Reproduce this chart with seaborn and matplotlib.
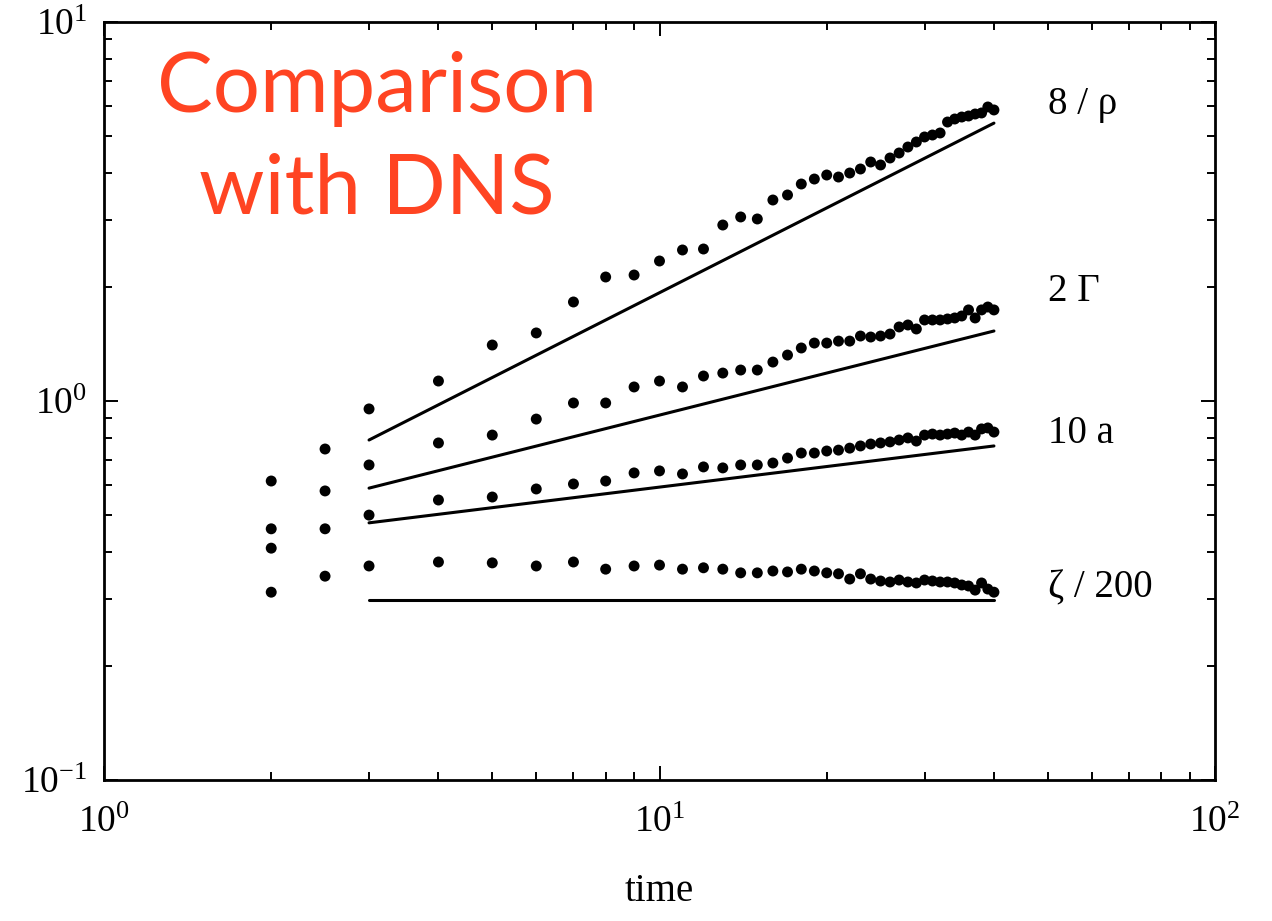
import numpy as np
import pandas as pd
import matplotlib
matplotlib.use("Agg")
import matplotlib.pyplot as plt
import seaborn as sns

# ---------------- data ----------------
time = [2, 2.5] + list(range(3, 41))

rho8 = [0.615, 0.747, 0.953, 1.129, 1.405, 1.512, 1.825, 2.124, 2.150, 2.341,
        2.503, 2.518, 2.913, 3.059, 3.022, 3.391, 3.496, 3.737, 3.852, 3.947,
        3.899, 3.995, 4.094, 4.272, 4.195, 4.377, 4.512, 4.679, 4.824, 4.973,
        5.033, 5.095, 5.446, 5.547, 5.614, 5.649, 5.718, 5.754, 5.967, 5.860]

gamma2 = [0.460, 0.579, 0.678, 0.775, 0.813, 0.896, 0.988, 0.988, 1.089, 1.129,
          1.089, 1.164, 1.185, 1.207, 1.207, 1.267, 1.322, 1.380, 1.422, 1.422,
          1.439, 1.439, 1.484, 1.475, 1.484, 1.502, 1.568, 1.587, 1.549, 1.636,
          1.636, 1.636, 1.646, 1.656, 1.676, 1.739, 1.656, 1.739, 1.770, 1.739]

a10 = [0.409, 0.460, 0.500, 0.548, 0.558, 0.586, 0.604, 0.615, 0.646, 0.654,
       0.642, 0.670, 0.666, 0.678, 0.678, 0.686, 0.707, 0.729, 0.729, 0.738,
       0.742, 0.751, 0.761, 0.770, 0.775, 0.780, 0.789, 0.799, 0.784, 0.813,
       0.818, 0.813, 0.818, 0.823, 0.813, 0.828, 0.813, 0.844, 0.849, 0.828]

zeta200 = [0.313, 0.345, 0.367, 0.376, 0.374, 0.367, 0.376, 0.360, 0.367, 0.369,
           0.360, 0.363, 0.360, 0.352, 0.352, 0.356, 0.354, 0.360, 0.356, 0.352,
           0.350, 0.339, 0.350, 0.339, 0.335, 0.333, 0.337, 0.333, 0.331, 0.337,
           0.335, 0.333, 0.333, 0.331, 0.327, 0.325, 0.317, 0.331, 0.319, 0.313]

# model curves (power laws, straight lines in log-log), endpoints at t=3 and t=40
line_time = [3, 40]
rho8_model = [0.789, 5.41]
gamma2_model = [0.589, 1.530]
a10_model = [0.477, 0.761]
zeta200_model = [0.2985, 0.2985]

series_names = ["8 / \u03c1", "2 \u0393", "10 a", "\u03b6 / 200"]
label_y = [6.04, 1.94, 0.823, 0.321]
label_x = 50
title_lines = ["Comparison", "with DNS"]
xlabel = "time"

# ---------------- tidy frames ----------------
dots = pd.concat([
    pd.DataFrame({"time": time, "value": v, "series": n})
    for v, n in zip([rho8, gamma2, a10, zeta200], series_names)
], ignore_index=True)
lines = pd.concat([
    pd.DataFrame({"time": line_time, "value": v, "series": n})
    for v, n in zip([rho8_model, gamma2_model, a10_model, zeta200_model], series_names)
], ignore_index=True)

# ---------------- style ----------------
sns.set_style("ticks")
plt.rcParams["font.family"] = ["Liberation Serif", "DejaVu Serif"]
plt.rcParams["mathtext.fontset"] = "custom"
plt.rcParams["mathtext.rm"] = "Liberation Serif"
plt.rcParams["mathtext.it"] = "Liberation Serif:italic"
plt.rcParams["axes.unicode_minus"] = False
plt.rcParams["text.color"] = "black"
plt.rcParams["axes.labelcolor"] = "black"
plt.rcParams["xtick.color"] = "black"
plt.rcParams["ytick.color"] = "black"

fig = plt.figure(figsize=(12.72, 9.21), dpi=100)
ax = fig.add_axes([104 / 1272, 1 - 780 / 921, 1111 / 1272, 758 / 921])

black = {n: "black" for n in series_names}
sns.lineplot(data=lines, x="time", y="value", hue="series", palette=black,
             units="series", estimator=None, linewidth=2.2, legend=False, ax=ax)
sns.scatterplot(data=dots, x="time", y="value", hue="series", palette=black,
                s=62, edgecolor="none", legend=False, ax=ax)

ax.set_xscale("log")
ax.set_yscale("log")
ax.set_xlim(1, 100)
ax.set_ylim(0.1, 10)

for sp in ax.spines.values():
    sp.set_linewidth(2.0)
    sp.set_color("black")

ax.tick_params(which="both", direction="in", top=True, right=True,
               color="black", labelcolor="black", width=1.4)
ax.tick_params(which="major", length=10, labelsize=27)
ax.tick_params(which="minor", length=6)
ax.tick_params(axis="x", which="major", pad=18)
ax.tick_params(axis="y", which="major", pad=12)

ax.set_xlabel(xlabel, fontsize=28, labelpad=24, color="black")
ax.set_ylabel("")

for name, yv in zip(series_names, label_y):
    ax.text(label_x, yv, name, fontsize=28, ha="left", va="center",
            color="black", family=["Liberation Serif", "DejaVu Serif"])

title_color = "#FF4422"
ax.text(0.2455, (780 - 112) / 758, title_lines[0], transform=ax.transAxes,
        ha="center", va="baseline", fontsize=60, color=title_color,
        family=["Lato", "DejaVu Sans"])
ax.text(0.2455, (780 - 213) / 758, title_lines[1], transform=ax.transAxes,
        ha="center", va="baseline", fontsize=60, color=title_color,
        family=["Lato", "DejaVu Sans"])

fig.savefig("out.png", dpi=100, facecolor="white")
